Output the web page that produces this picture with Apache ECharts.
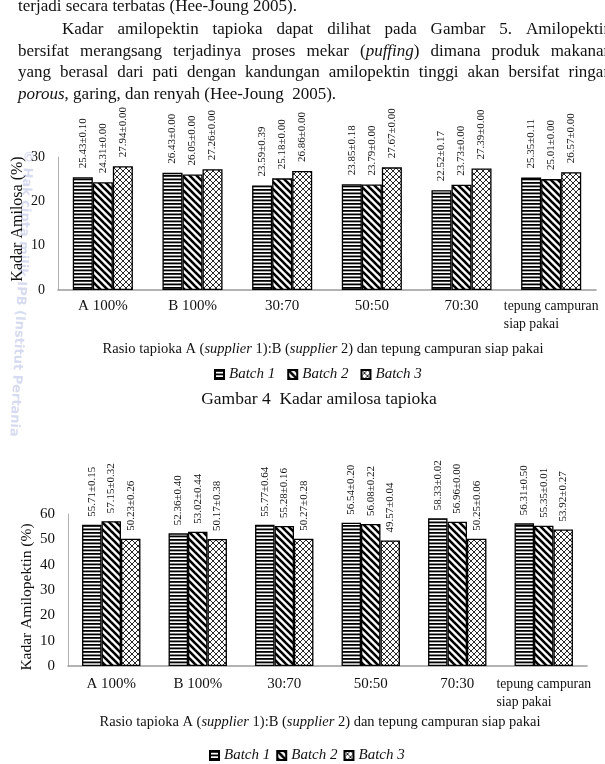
<!DOCTYPE html>
<html><head><meta charset="utf-8">
<script src="https://cdn.jsdelivr.net/npm/echarts@6/dist/echarts.min.js"></script>
<style>
html,body{margin:0;padding:0;background:#fff;overflow:hidden;}
#wrap{position:relative;width:605px;height:764px;overflow:hidden;background:#fff;}
#chart{position:absolute;left:0;top:0;width:605px;height:764px;}
.ln{position:absolute;font-family:'Liberation Serif','Times New Roman',serif;font-size:17px;line-height:17px;color:#111;white-space:nowrap;}
.j{display:flex;justify-content:space-between;}
</style></head><body>
<div id="wrap">
<div id="chart"></div>
<div class="ln" style="left:18px;top:-3px;">terjadi secara terbatas (Hee-Joung 2005).</div>
<div class="ln j" data-w="Kadar|amilopektin|tapioka|dapat|dilihat|pada|Gambar|5.|Amilopektin" style="left:62px;top:20px;width:550px;"></div>
<div class="ln j" data-w="bersifat|merangsang|terjadinya|proses|mekar|(<i>puffing</i>)|dimana|produk|makanan" style="left:18px;top:42px;width:594px;"></div>
<div class="ln j" data-w="yang|berasal|dari|pati|dengan|kandungan|amilopektin|tinggi|akan|bersifat|ringan" style="left:18px;top:63px;width:594px;"></div>
<div class="ln" style="left:18px;top:85px;"><i>porous</i>, garing, dan renyah (Hee-Joung &nbsp;2005).</div>
</div>
<script>
// ---------- data ----------
const categories = ['A 100%', 'B 100%', '30:70', '50:50', '70:30', 'tepung campuran\nsiap pakai'];
const seriesNames = ['Batch 1', 'Batch 2', 'Batch 3'];

const amilosaBatch1 = [25.43, 26.43, 23.59, 23.85, 22.52, 25.35];
const amilosaBatch2 = [24.31, 26.05, 25.18, 23.79, 23.73, 25.01];
const amilosaBatch3 = [27.94, 27.26, 26.86, 27.67, 27.39, 26.57];
const amilosaSd1 = ['0.10', '0.00', '0.39', '0.18', '0.17', '0.11'];
const amilosaSd2 = ['0.00', '0.00', '0.00', '0.00', '0.00', '0.00'];
const amilosaSd3 = ['0.00', '0.00', '0.00', '0.00', '0.00', '0.00'];

const amilopektinBatch1 = [55.71, 52.36, 55.77, 56.54, 58.33, 56.31];
const amilopektinBatch2 = [57.15, 53.02, 55.28, 56.08, 56.96, 55.35];
const amilopektinBatch3 = [50.23, 50.17, 50.27, 49.57, 50.25, 53.92];
const amilopektinSd1 = ['0.15', '0.40', '0.64', '0.20', '0.02', '0.50'];
const amilopektinSd2 = ['0.32', '0.44', '0.16', '0.22', '0.00', '0.01'];
const amilopektinSd3 = ['0.26', '0.38', '0.28', '0.04', '0.06', '0.27'];

const amilosaAxis = { min: 0, max: 30, interval: 10 };
const amilopektinAxis = { min: 0, max: 60, interval: 10 };

// ---------- paragraph words (justified lines) ----------
document.querySelectorAll('.j').forEach(function (d) {
  d.innerHTML = d.getAttribute('data-w').split('|').map(function (w) { return '<span>' + w + '</span>'; }).join('');
});

// ---------- patterns ----------
function makePattern(kind) {
  const c = document.createElement('canvas');
  const ctx = c.getContext('2d');
  if (kind === 0) {
    c.width = 8; c.height = 7;
    ctx.fillStyle = '#fff'; ctx.fillRect(0, 0, 8, 7);
    ctx.fillStyle = '#000';
    ctx.fillRect(0, 0, 8, 1.8); ctx.fillRect(0, 3.5, 8, 1.8);
  } else if (kind === 1) {
    const s = 7; c.width = s; c.height = s;
    ctx.fillStyle = '#fff'; ctx.fillRect(0, 0, s, s);
    ctx.strokeStyle = '#000'; ctx.lineWidth = 2.6;
    for (let k = -1; k <= 1; k++) {
      ctx.beginPath(); ctx.moveTo(k * s - 1, -1); ctx.lineTo(k * s + s + 1, s + 1); ctx.stroke();
    }
  } else {
    const s = 6; c.width = s; c.height = s;
    ctx.fillStyle = '#fff'; ctx.fillRect(0, 0, s, s);
    ctx.strokeStyle = '#111'; ctx.lineWidth = 0.9;
    for (let k = -1; k <= 1; k++) {
      ctx.beginPath(); ctx.moveTo(k * s - 1, -1); ctx.lineTo(k * s + s + 1, s + 1); ctx.stroke();
      ctx.beginPath(); ctx.moveTo(k * s - 1, s + 1); ctx.lineTo(k * s + s + 1, -1); ctx.stroke();
    }
  }
  return { image: c, repeat: 'repeat' };
}
const patterns = [makePattern(0), makePattern(1), makePattern(2)];

const SERIF = "'Liberation Serif', 'Times New Roman', serif";

function barSeries(idx, data, sd, axisIdx, fontSize, dist) {
  return {
    type: 'bar', name: seriesNames[idx], data: data,
    xAxisIndex: axisIdx, yAxisIndex: axisIdx,
    barGap: '0%', barCategoryGap: axisIdx === 0 ? '33%' : '32.5%',
    itemStyle: { color: patterns[idx], borderColor: '#000', borderWidth: 1.3 },
    label: {
      show: true, position: 'top', rotate: 90, align: 'left', verticalAlign: 'middle',
      distance: dist, fontFamily: SERIF, fontSize: fontSize, color: '#111',
      formatter: function (p) { return p.value.toFixed(2) + '±' + sd[p.dataIndex]; }
    },
    emphasis: { disabled: true },
    animation: false
  };
}

function xAxisCfg(gridIndex, margin) {
  return {
    gridIndex: gridIndex, type: 'category', data: categories,
    axisLine: { lineStyle: { color: '#9a9a9a', width: 1.6 } },
    axisTick: { show: false },
    axisLabel: {
      interval: 0, margin: margin, fontFamily: SERIF, fontSize: 15, color: '#111', lineHeight: 18,
      formatter: function (v) {
        return v.indexOf('\n') >= 0 ? v.split('\n').map(function (s) { return '{s|' + s + '}'; }).join('\n') : v;
      },
      rich: { s: { fontFamily: SERIF, fontSize: 13.7, color: '#111', align: 'left', lineHeight: 18 } }
    }
  };
}
function yAxisCfg(gridIndex, ax, fs) {
  return {
    gridIndex: gridIndex, type: 'value', min: ax.min, max: ax.max, interval: ax.interval,
    axisLine: { show: true, lineStyle: { color: '#b0b0b0', width: 1 } },
    axisTick: { show: false }, splitLine: { show: false },
    axisLabel: { margin: 13, fontFamily: SERIF, fontSize: fs, color: '#111' }
  };
}

const titleRich = {
  n: { fontFamily: SERIF, fontSize: 14.5, fill: '#111' },
  i: { fontFamily: SERIF, fontSize: 14.5, fontStyle: 'italic', fill: '#111' }
};
const titleText = '{n|Rasio tapioka A (}{i|supplier}{n| 1):B (}{i|supplier}{n| 2) dan tepung campuran siap pakai}';

const legendText = { fontFamily: SERIF, fontStyle: 'italic', fontSize: 15, color: '#111' };

const chart = echarts.init(document.getElementById('chart'), null, { renderer: 'canvas' });
chart.setOption({
  backgroundColor: '#fff',
  animation: false,
  grid: [
    { left: 58, right: 9, top: 157, bottom: 474 },
    { left: 68, right: 18, top: 514, bottom: 98 }
  ],
  xAxis: [xAxisCfg(0, 7), xAxisCfg(1, 9)],
  yAxis: [yAxisCfg(0, amilosaAxis, 14), yAxisCfg(1, amilopektinAxis, 15)],
  legend: [
    { data: seriesNames, left: 209, top: 362, icon: 'rect', itemWidth: 9, itemHeight: 9, itemGap: 12, selectedMode: false, textStyle: legendText },
    { data: seriesNames, left: 204, top: 743, icon: 'rect', itemWidth: 9, itemHeight: 9, itemGap: 6, selectedMode: false, textStyle: legendText }
  ],
  graphic: [
    { type: 'text', x: 28, y: 150, rotation: -(Math.PI / 2 + 0.05), z: 0, silent: true,
      style: { text: '© Hak cipta milik IPB (Institut Pertania', font: 'bold 13px "DejaVu Sans"', fill: 'rgba(110,125,200,0.28)', align: 'left', verticalAlign: 'middle' } },
    { type: 'text', x: 18, y: 219, rotation: Math.PI / 2, silent: true,
      style: { text: 'Kadar Amilosa (%)', font: '16px ' + SERIF, fill: '#111', align: 'center', verticalAlign: 'middle' } },
    { type: 'text', x: 27, y: 597, rotation: Math.PI / 2, silent: true,
      style: { text: 'Kadar Amilopektin (%)', font: '15.5px ' + SERIF, fill: '#111', align: 'center', verticalAlign: 'middle' } },
    { type: 'text', x: 323, y: 349, silent: true,
      style: { text: titleText, rich: titleRich, align: 'center', verticalAlign: 'middle' } },
    { type: 'text', x: 319, y: 399, silent: true,
      style: { text: 'Gambar 4  Kadar amilosa tapioka', font: '17.5px ' + SERIF, fill: '#111', align: 'center', verticalAlign: 'middle' } },
    { type: 'text', x: 320, y: 722, silent: true,
      style: { text: titleText, rich: titleRich, align: 'center', verticalAlign: 'middle' } }
  ],
  series: [
    barSeries(0, amilosaBatch1, amilosaSd1, 0, 11, 9),
    barSeries(1, amilosaBatch2, amilosaSd2, 0, 11, 9),
    barSeries(2, amilosaBatch3, amilosaSd3, 0, 11, 9),
    barSeries(0, amilopektinBatch1, amilopektinSd1, 1, 11, 8),
    barSeries(1, amilopektinBatch2, amilopektinSd2, 1, 11, 8),
    barSeries(2, amilopektinBatch3, amilopektinSd3, 1, 11, 8)
  ]
});
</script>
</body></html>
